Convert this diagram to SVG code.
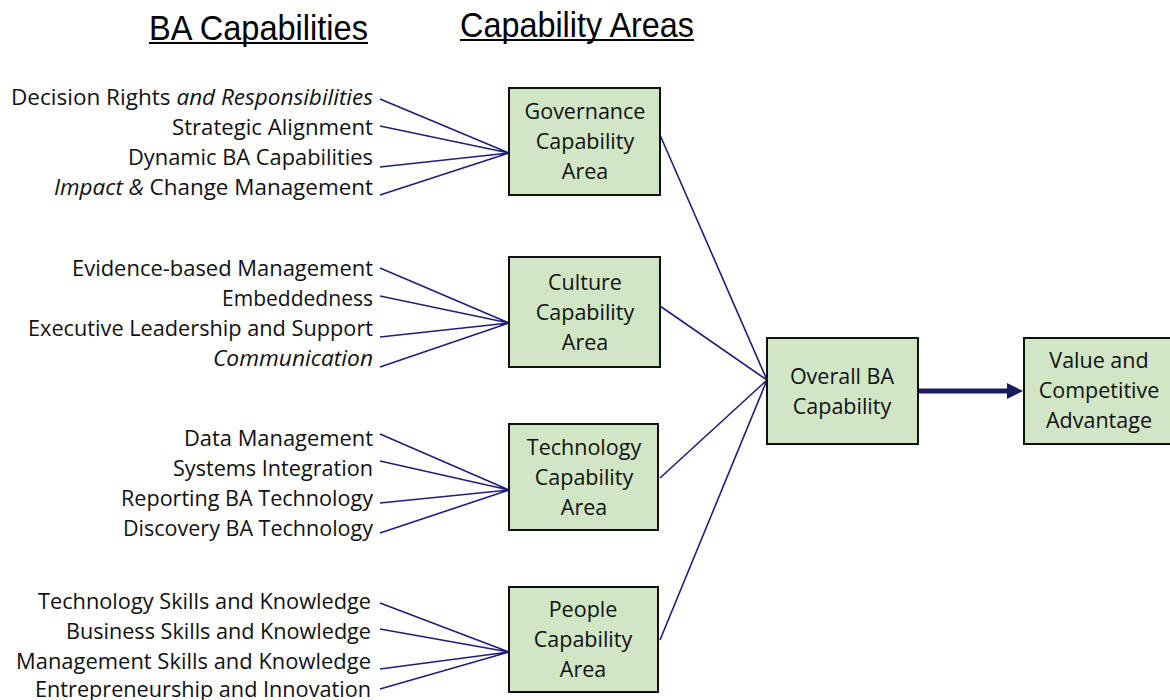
<svg xmlns="http://www.w3.org/2000/svg" width="1170" height="700" viewBox="0 0 1170 700">
<style>
.h{font-family:"Liberation Sans Narrow","Liberation Sans",sans-serif;font-size:35px;fill:#000}
.l{font-family:"Open Sans","Liberation Sans",sans-serif;font-size:21px;fill:#111;text-anchor:end}
.i{font-style:italic}
.b{font-family:"Open Sans","Liberation Sans",sans-serif;font-size:21.5px;fill:#111;text-anchor:middle}
.box{fill:#d0e6c5;stroke:#111;stroke-width:2}
.c{stroke:#1f1f7a;stroke-width:1.6;fill:none}
.ul{stroke:#000;stroke-width:2}
</style>
<defs>
<marker id="ah2" markerWidth="18" markerHeight="18" refX="3" refY="9" orient="auto" markerUnits="userSpaceOnUse" viewBox="0 0 18 18">
<path d="M0,1 L16,9 L0,17 Z" fill="#1a1a5e"/>
</marker>
</defs>
<g id="headings">
<text class="h" x="149" y="40" textLength="219" lengthAdjust="spacingAndGlyphs">BA Capabilities</text>
<line class="ul" x1="149" y1="43" x2="368" y2="43"/>
<text class="h" x="460" y="37" textLength="234" lengthAdjust="spacingAndGlyphs">Capability Areas</text>
<line class="ul" x1="460" y1="40" x2="694" y2="40"/>
</g>
<g id="connectors">
<path class="c" d="M380,99 L509,153 M380,126 L509,153 M380,167 L509,153 M380,195 L509,153"/>
<path class="c" d="M380,268 L509,323 M380,296 L509,323 M380,337 L509,323 M380,367 L509,323"/>
<path class="c" d="M380,434 L509,490 M380,461 L509,490 M380,503 L509,490 M380,533 L509,490"/>
<path class="c" d="M380,603 L509,652 M380,629 L509,652 M380,669 L509,652 M380,689 L509,652"/>
<path class="c" d="M660,135 L767,380 M660,306 L767,380 M660,478 L767,380 M660,640 L767,380"/>
<line x1="918" y1="391" x2="1010" y2="391" stroke="#1a1a5e" stroke-width="5" marker-end="url(#ah2)"/>
</g>
<g id="gov-items">
<text class="l" x="373" y="105" textLength="362" lengthAdjust="spacingAndGlyphs">Decision Rights <tspan class="i">and Responsibilities</tspan></text>
<text class="l" x="373" y="135" textLength="201" lengthAdjust="spacingAndGlyphs">Strategic Alignment</text>
<text class="l" x="373" y="165" textLength="245" lengthAdjust="spacingAndGlyphs">Dynamic BA Capabilities</text>
<text class="l" x="373" y="195" textLength="319" lengthAdjust="spacingAndGlyphs"><tspan class="i">Impact &amp;</tspan> Change Management</text>
</g>
<g id="cul-items">
<text class="l" x="373" y="276" textLength="301" lengthAdjust="spacingAndGlyphs">Evidence-based  Management</text>
<text class="l" x="373" y="306" textLength="151" lengthAdjust="spacingAndGlyphs">Embeddedness</text>
<text class="l" x="373" y="336" textLength="345" lengthAdjust="spacingAndGlyphs">Executive Leadership and Support</text>
<text class="l i" x="373" y="366" textLength="160" lengthAdjust="spacingAndGlyphs">Communication</text>
</g>
<g id="tech-items">
<text class="l" x="373" y="446" textLength="189" lengthAdjust="spacingAndGlyphs">Data Management</text>
<text class="l" x="373" y="476" textLength="200" lengthAdjust="spacingAndGlyphs">Systems Integration</text>
<text class="l" x="373" y="506" textLength="252" lengthAdjust="spacingAndGlyphs">Reporting BA Technology</text>
<text class="l" x="373" y="536" textLength="250" lengthAdjust="spacingAndGlyphs">Discovery BA Technology</text>
</g>
<g id="people-items">
<text class="l" x="371" y="609" textLength="333" lengthAdjust="spacingAndGlyphs">Technology Skills and Knowledge</text>
<text class="l" x="371" y="639" textLength="305" lengthAdjust="spacingAndGlyphs">Business Skills and Knowledge</text>
<text class="l" x="371" y="669" textLength="355" lengthAdjust="spacingAndGlyphs">Management Skills and Knowledge</text>
<text class="l" x="371" y="697" textLength="336" lengthAdjust="spacingAndGlyphs">Entrepreneurship and Innovation</text>
</g>
<g id="governance">
<rect class="box" x="509" y="88" width="151" height="107"/>
<text class="b" x="585" y="119">Governance</text>
<text class="b" x="585" y="149">Capability</text>
<text class="b" x="585" y="179">Area</text>
</g>
<g id="culture">
<rect class="box" x="509" y="257" width="151" height="110"/>
<text class="b" x="585" y="290">Culture</text>
<text class="b" x="585" y="320">Capability</text>
<text class="b" x="585" y="350">Area</text>
</g>
<g id="technology">
<rect class="box" x="509" y="424" width="149" height="106"/>
<text class="b" x="584" y="455">Technology</text>
<text class="b" x="584" y="485">Capability</text>
<text class="b" x="584" y="515">Area</text>
</g>
<g id="people">
<rect class="box" x="509" y="587" width="149" height="105"/>
<text class="b" x="583" y="617">People</text>
<text class="b" x="583" y="647">Capability</text>
<text class="b" x="583" y="677">Area</text>
</g>
<g id="overall">
<rect class="box" x="767" y="338" width="151" height="106"/>
<text class="b" x="842" y="384">Overall BA</text>
<text class="b" x="842" y="414">Capability</text>
</g>
<g id="value">
<rect class="box" x="1024" y="338" width="150" height="106"/>
<text class="b" x="1099" y="368">Value and</text>
<text class="b" x="1099" y="398">Competitive</text>
<text class="b" x="1099" y="428">Advantage</text>
</g>
</svg>
